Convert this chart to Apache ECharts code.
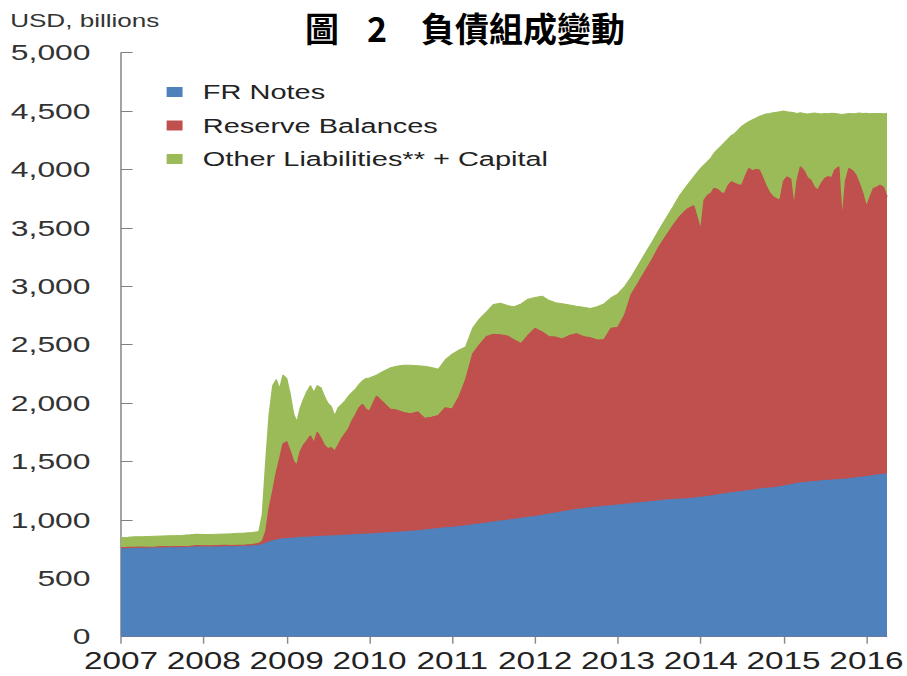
<!DOCTYPE html>
<html>
<head>
<meta charset="utf-8">
<title>負債組成變動</title>
<script src="https://cdn.jsdelivr.net/npm/echarts@6.0.0/dist/echarts.min.js"></script>
<style>
  html, body { margin: 0; padding: 0; background: #fff; overflow: hidden; }
  /* The chart is laid out on a narrower canvas and widened to the page width,
     which gives the wide, stretched lettering of the printed figure. */
  #chart { width: 626px; height: 676px; transform: scaleX(1.4489); transform-origin: 0 0; }
</style>
</head>
<body>
<div id="chart"></div>
<script>
// Observation dates (monthly in calm stretches, twice a month where the balance sheet moves fast)
const dates = [
  '2007-01-01','2007-02-01','2007-03-01','2007-04-01','2007-05-01','2007-06-01',
  '2007-07-01','2007-08-01','2007-09-01','2007-10-01','2007-11-01','2007-12-01',
  '2008-01-01','2008-02-01','2008-03-01','2008-04-01','2008-05-01','2008-06-01',
  '2008-07-01','2008-08-01',
  '2008-09-01','2008-09-16','2008-10-01','2008-10-16','2008-11-01','2008-11-16',
  '2008-12-01','2008-12-16',
  '2009-01-01','2009-01-16','2009-02-01','2009-02-16','2009-03-01','2009-03-16',
  '2009-04-01','2009-04-16','2009-05-01','2009-05-16','2009-06-01','2009-06-16',
  '2009-07-01','2009-07-16','2009-08-01','2009-08-16','2009-09-01','2009-09-16',
  '2009-10-01','2009-10-16','2009-11-01','2009-11-16','2009-12-01','2009-12-16',
  '2010-01-01','2010-02-01','2010-03-01','2010-04-01','2010-05-01','2010-06-01',
  '2010-07-01','2010-08-01','2010-09-01','2010-10-01','2010-11-01','2010-12-01',
  '2011-01-01','2011-02-01','2011-03-01','2011-04-01','2011-05-01','2011-06-01',
  '2011-07-01','2011-08-01','2011-09-01','2011-10-01','2011-11-01','2011-12-01',
  '2012-01-01','2012-02-01','2012-03-01','2012-04-01','2012-05-01','2012-06-01',
  '2012-07-01','2012-08-01','2012-09-01','2012-10-01','2012-11-01','2012-12-01',
  '2013-01-01','2013-02-01','2013-03-01','2013-04-01','2013-05-01','2013-06-01',
  '2013-07-01','2013-08-01','2013-09-01','2013-10-01','2013-11-01','2013-12-01',
  '2014-01-01','2014-01-16','2014-02-01','2014-02-16','2014-03-01','2014-03-16',
  '2014-04-01','2014-04-16','2014-05-01','2014-05-16','2014-06-01','2014-06-16',
  '2014-07-01','2014-07-16','2014-08-01','2014-08-16','2014-09-01','2014-09-16',
  '2014-10-01','2014-10-16','2014-11-01','2014-11-16','2014-12-01','2014-12-16',
  '2015-01-01','2015-01-16','2015-02-01','2015-02-16','2015-03-01','2015-03-16',
  '2015-04-01','2015-04-16','2015-05-01','2015-05-16','2015-06-01','2015-06-16',
  '2015-07-01','2015-07-16','2015-08-01','2015-08-16','2015-09-01','2015-09-16',
  '2015-10-01','2015-10-16','2015-11-01','2015-11-16','2015-12-01','2015-12-16',
  '2016-01-01','2016-01-16','2016-02-01','2016-02-16','2016-03-01','2016-03-16',
  '2016-04-01'
];

// Federal Reserve notes outstanding, USD billions
const frNotes = [
  752,754,756,757,758,759,760,761,762,763,765,768,
  768,768,769,770,771,773,775,777,
  782,790,800,812,822,829,834,838,
  840,842,845,847,849,851,852,854,856,857,859,860,
  862,863,865,866,868,869,871,873,874,876,878,879,
  880,884,887,890,894,898,903,908,914,920,926,932,
  938,944,950,958,966,974,982,990,998,1006,1014,1022,
  1030,1040,1050,1060,1070,1080,1090,1098,1104,1110,1116,1122,
  1128,1134,1140,1146,1152,1158,1164,1170,1174,1178,1182,1188,
  1194,1198,1202,1206,1210,1215,1220,1224,1228,1232,1236,1240,
  1244,1248,1252,1256,1260,1264,1268,1271,1274,1277,1280,1285,
  1290,1296,1302,1308,1314,1317,1320,1323,1326,1329,1332,1335,
  1338,1340,1342,1344,1346,1348,1350,1353,1356,1360,1364,1368,
  1372,1376,1380,1384,1388,1391,1394
];

// Reserve balances held by depository institutions, USD billions
const reserveBalances = [
  10,12,9,11,8,10,12,9,11,10,9,12,
  11,10,12,14,9,11,10,12,
  18,30,100,288,428,571,686,812,
  830,748,655,623,731,789,828,866,804,893,841,780,
  748,757,725,774,832,871,909,977,1026,1084,1112,1071,
  1050,1176,1123,1060,1046,1022,1007,1017,956,960,969,1028,
  1012,1116,1250,1462,1534,1596,1608,1595,1577,1534,1496,1558,
  1610,1570,1520,1505,1480,1500,1505,1472,1456,1430,1429,1518,
  1522,1626,1790,1884,1978,2072,2176,2260,2346,2422,2478,2502,
  2286,2542,2578,2594,2630,2615,2580,2571,2632,2663,2644,2630,
  2622,2692,2757,2734,2740,2731,2662,2589,2526,2489,2470,2452,
  2610,2641,2618,2372,2586,2706,2670,2607,2583,2521,2491,2545,
  2585,2600,2588,2656,2677,2218,2550,2656,2634,2590,2516,2427,
  2308,2384,2458,2466,2478,2459,2372
];

// Other liabilities plus capital, USD billions
const otherLiabCapital = [
  88,86,90,88,92,91,90,94,93,95,98,98,
  97,96,97,96,102,101,103,103,
  100,230,600,800,900,800,600,590,
  540,490,400,370,370,390,420,430,430,400,430,420,
  390,350,300,320,290,280,280,240,220,200,200,260,
  285,180,260,350,375,405,415,395,445,425,395,410,
  470,395,280,220,220,210,255,270,260,285,340,310,
  265,305,310,295,300,260,235,250,250,285,305,260,
  285,240,150,150,150,150,140,150,160,180,200,245,
  530,300,290,300,300,340,400,435,400,395,430,470,
  504,450,401,435,440,460,535,615,680,719,740,758,
  600,558,570,805,580,462,490,546,571,634,657,596,
  557,538,552,480,453,906,576,471,488,530,604,685,
  802,718,642,630,614,628,714
];

const yearTicks = [2007, 2008, 2009, 2010, 2011, 2012, 2013, 2014, 2015, 2016];
const seriesNames = ['FR Notes', 'Reserve Balances', 'Other Liabilities** + Capital'];
const seriesColors = ['#4F81BD', '#C0504D', '#9BBB59'];

const WIDEN = 1.4489;               // horizontal stretch applied by the page style
const FONT = '"Liberation Sans", Arial, sans-serif';
const CJK = '"Noto Sans CJK TC", "Noto Sans CJK SC", sans-serif';

// Calendar date -> fractional year, so the x axis can count whole years
function toYear(s) {
  const [y, m, d] = s.split('-').map(Number);
  const t = Date.UTC(y, m - 1, d), a = Date.UTC(y, 0, 1), b = Date.UTC(y + 1, 0, 1);
  return y + (t - a) / (b - a);
}
const xs = dates.map(toYear);

// Layers are piled up: each band's top edge is the running sum of the components below it
const layerTops = [];
[frNotes, reserveBalances, otherLiabCapital].forEach((vals, k) => {
  layerTops.push(vals.map((v, i) => v + (k ? layerTops[k - 1][i] : 0)));
});
const pairs = vals => vals.map((v, i) => [xs[i], v]);

const chart = echarts.init(document.getElementById('chart'), null, { renderer: 'svg' });

chart.setOption({
  animation: false,
  backgroundColor: '#ffffff',
  textStyle: { fontFamily: FONT },
  grid: { left: 83.5, right: 13.8, top: 52.7, bottom: 39.3, outerBoundsMode: 'none', containLabel: false },
  legend: {
    data: seriesNames,
    orient: 'vertical',
    left: 110,
    top: 77,
    icon: 'rect',
    itemWidth: 11,
    itemHeight: 10,
    itemGap: 13.5,
    selectedMode: false,
    textStyle: { fontFamily: FONT, fontSize: 20, lineHeight: 20, color: '#222', padding: [0, 0, 0, 9] }
  },
  xAxis: {
    type: 'value',
    min: toYear('2007-01-01'),
    max: toYear(dates[dates.length - 1]),
    interval: 1,
    splitLine: { show: false },
    axisLine: { show: true, lineStyle: { color: '#c4c9d0', width: 1 } },
    axisTick: { show: true, customValues: yearTicks, length: 7, lineStyle: { color: '#8a8a8a' } },
    axisLabel: {
      customValues: yearTicks,
      formatter: v => (Number.isInteger(v) ? String(v) : ''),
      fontFamily: FONT, fontSize: 23, color: '#222', margin: 13
    }
  },
  yAxis: {
    type: 'value',
    min: 0,
    max: 5000,
    interval: 500,
    splitLine: { show: false },
    axisLine: { show: true, lineStyle: { color: '#808080', width: 1 } },
    axisTick: { show: true, inside: true, length: 8, lineStyle: { color: '#808080' } },
    axisLabel: {
      formatter: v => v.toLocaleString('en-US'),
      fontFamily: FONT, fontSize: 22, color: '#333', margin: 21
    }
  },
  // the lowest band is drawn last so it sits on top of the taller ones
  series: seriesNames.map((name, i) => ({
    name,
    type: 'line',
    z: 4 - i,
    data: pairs(layerTops[i]),
    showSymbol: false,
    symbol: 'none',
    smooth: false,
    lineStyle: { width: 1, color: seriesColors[i] },
    itemStyle: { color: seriesColors[i] },
    areaStyle: { color: seriesColors[i], opacity: 1, origin: 'start' },
    emphasis: { disabled: true },
    silent: true
  })),
  graphic: [
    {
      type: 'text',
      left: 7,
      top: 12,
      style: { text: 'USD, billions', fontFamily: FONT, fontSize: 18, fill: '#333' }
    },
    {
      // figure caption, kept at its natural width
      type: 'group',
      x: 305 / WIDEN,
      y: 0,
      scaleX: 1 / WIDEN,
      children: [
        { type: 'text', x: 0, y: 27, style: { text: '圖', fontFamily: CJK, fontWeight: 'bold', fontSize: 34, fill: '#000', verticalAlign: 'middle' } },
        { type: 'text', x: 62, y: 27, style: { text: '2', fontFamily: CJK, fontWeight: 'bold', fontSize: 34, fill: '#000', verticalAlign: 'middle' } },
        { type: 'text', x: 116, y: 27, style: { text: '負債組成變動', fontFamily: CJK, fontWeight: 'bold', fontSize: 34, fill: '#000', verticalAlign: 'middle' } }
      ]
    }
  ]
});
</script>
</body>
</html>
